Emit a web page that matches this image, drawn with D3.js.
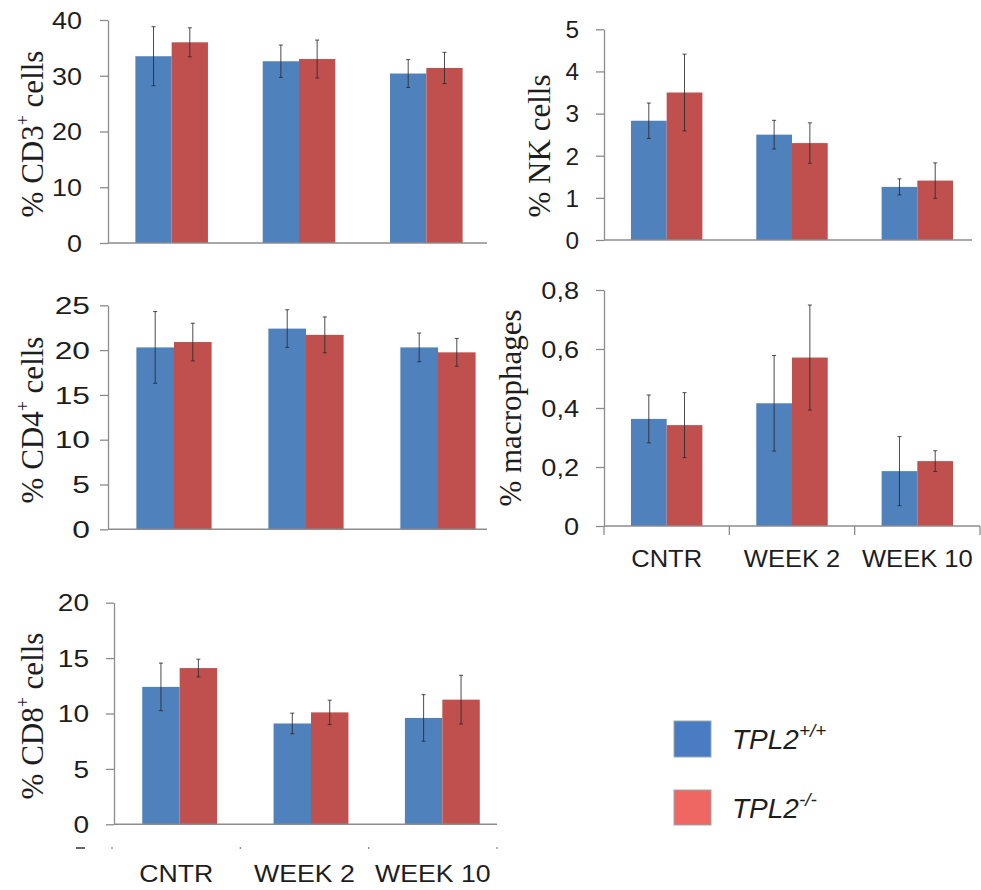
<!DOCTYPE html>
<html>
<head>
<meta charset="utf-8">
<script src="https://cdn.jsdelivr.net/npm/d3@7/dist/d3.min.js"></script>
<style>
  html, body { margin: 0; padding: 0; background: #fff; }
  svg { display: block; }
  .tick text { font-family: "Liberation Sans", Arial, sans-serif; fill: #1e1e1e; }
</style>
</head>
<body>
<svg id="chart" width="981" height="890"></svg>
<script>
// Time points and genotypes
const categories = ["CNTR", "WEEK 2", "WEEK 10"];
const genotypes = ["wt", "ko"];

// % CD3+ cells
const cd3Wt = [33.5, 32.6, 30.4];
const cd3WtErr = [5.3, 2.9, 2.5];
const cd3Ko = [36.0, 33.0, 31.4];
const cd3KoErr = [2.6, 3.4, 2.8];
const cd3Ticks = [0, 10, 20, 30, 40];

// % NK cells
const nkWt = [2.83, 2.5, 1.26];
const nkWtErr = [0.42, 0.34, 0.19];
const nkKo = [3.5, 2.3, 1.41];
const nkKoErr = [0.91, 0.48, 0.42];
const nkTicks = [0, 1, 2, 3, 4, 5];

// % CD4+ cells
const cd4Wt = [20.3, 22.4, 20.3];
const cd4WtErr = [4.0, 2.1, 1.6];
const cd4Ko = [20.9, 21.7, 19.75];
const cd4KoErr = [2.1, 2.0, 1.55];
const cd4Ticks = [0, 5, 10, 15, 20, 25];

// % macrophages
const macWt = [0.363, 0.416, 0.186];
const macWtErr = [0.081, 0.162, 0.117];
const macKo = [0.342, 0.571, 0.22];
const macKoErr = [0.11, 0.178, 0.035];
const macTicks = [0, 0.2, 0.4, 0.6, 0.8];

// % CD8+ cells
const cd8Wt = [12.4, 9.1, 9.6];
const cd8WtErr = [2.15, 0.93, 2.1];
const cd8Ko = [14.1, 10.1, 11.25];
const cd8KoErr = [0.8, 1.1, 2.2];
const cd8Ticks = [0, 5, 10, 15, 20];

const colors = { wt: "#4f81bd", ko: "#c0504d" };
const legendColors = { wt: "#4a7cc3", ko: "#ee6762" };
const axisColor = "#8c8c8c";

const svg = d3.select("#chart");

const commaFmt = d => d === 0 ? "0" : d.toFixed(1).replace(".", ",");

const panels = [
  { wt: cd3Wt, wtErr: cd3WtErr, ko: cd3Ko, koErr: cd3KoErr, ticks: cd3Ticks,
    label: ["% CD3", "+", " cells"],
    ax: 108, top: 20, bottom: 243, bandEnd: 490, lineEnd: 487,
    sx: 1.17, gap: 26, labelX: 43, labelY: 134 },
  { wt: nkWt, wtErr: nkWtErr, ko: nkKo, koErr: nkKoErr, ticks: nkTicks,
    label: ["% NK cells"],
    ax: 604, top: 29.3, bottom: 240, bandEnd: 980, lineEnd: 972,
    sx: 1.06, gap: 25, labelX: 550, labelY: 146 },
  { wt: cd4Wt, wtErr: cd4WtErr, ko: cd4Ko, koErr: cd4KoErr, ticks: cd4Ticks,
    label: ["% CD4", "+", " cells"],
    ax: 108, top: 305.3, bottom: 529.3, bandEnd: 504, lineEnd: 487,
    sx: 1.38, gap: 18, labelX: 43, labelY: 420 },
  { wt: macWt, wtErr: macWtErr, ko: macKo, koErr: macKoErr, ticks: macTicks,
    label: ["% macrophages"], fmt: commaFmt,
    ax: 604, top: 290, bottom: 526, bandEnd: 980, lineEnd: 980,
    sx: 1.18, gap: 25, labelX: 521, labelY: 408,
    catAxis: { start: 604, end: 980, y: 526, tick: 9, labelY: 567, sx: 1.11 } },
  { wt: cd8Wt, wtErr: cd8WtErr, ko: cd8Ko, koErr: cd8KoErr, ticks: cd8Ticks,
    label: ["% CD8", "+", " cells"],
    ax: 114, top: 602.7, bottom: 824.3, bandEnd: 508, lineEnd: 497,
    sx: 1.22, gap: 25, labelX: 43, labelY: 716,
    catAxis: { start: 112, end: 497, y: 847, tick: 2, labelY: 882, sx: 1.16 } }
];

panels.forEach(p => {
  const g = svg.append("g");

  const y = d3.scaleLinear()
    .domain([0, d3.max(p.ticks)])
    .range([p.bottom, p.top]);

  const x0 = d3.scaleBand()
    .domain(categories)
    .range([p.ax, p.bandEnd])
    .paddingInner(0.43)
    .paddingOuter(0.215);

  const x1 = d3.scaleBand()
    .domain(genotypes)
    .range([0, x0.bandwidth()]);

  // bars with error bars
  const rows = categories.map((c, i) => ({
    cat: c,
    items: [
      { key: "wt", v: p.wt[i], e: p.wtErr[i] },
      { key: "ko", v: p.ko[i], e: p.koErr[i] }
    ]
  }));

  const groups = g.selectAll("g.grp").data(rows).join("g")
    .attr("class", "grp")
    .attr("transform", d => `translate(${x0(d.cat)},0)`);

  groups.selectAll("rect").data(d => d.items).join("rect")
    .attr("x", d => x1(d.key))
    .attr("y", d => y(d.v))
    .attr("width", x1.bandwidth())
    .attr("height", d => y(0) - y(d.v))
    .attr("fill", d => colors[d.key]);

  const eb = groups.selectAll("g.err").data(d => d.items).join("g")
    .attr("class", "err")
    .attr("stroke", "#2b2b2b")
    .attr("stroke-opacity", 0.85)
    .attr("stroke-width", 1);
  const cx = d => x1(d.key) + x1.bandwidth() / 2;
  eb.append("line")
    .attr("x1", cx).attr("x2", cx)
    .attr("y1", d => y(d.v + d.e)).attr("y2", d => y(d.v - d.e));
  eb.append("line")
    .attr("x1", d => cx(d) - 2).attr("x2", d => cx(d) + 2)
    .attr("y1", d => y(d.v + d.e)).attr("y2", d => y(d.v + d.e));
  eb.append("line")
    .attr("x1", d => cx(d) - 2).attr("x2", d => cx(d) + 2)
    .attr("y1", d => y(d.v - d.e)).attr("y2", d => y(d.v - d.e));

  // value axis
  const yAxis = d3.axisLeft(y)
    .tickValues(p.ticks)
    .tickSize(8)
    .tickSizeOuter(0)
    .tickFormat(p.fmt || d3.format("d"));
  const ya = g.append("g")
    .attr("transform", `translate(${p.ax},0)`)
    .call(yAxis);
  ya.select(".domain").attr("stroke", axisColor).attr("stroke-width", 1.3);
  ya.selectAll(".tick line").attr("stroke", axisColor).attr("stroke-width", 1.3);
  ya.selectAll(".tick text")
    .attr("font-size", 23)
    .attr("x", -p.gap / p.sx)
    .attr("dy", "0.36em")
    .attr("transform", `scale(${p.sx},1)`);

  // baseline
  g.append("line")
    .attr("x1", p.ax).attr("x2", p.lineEnd)
    .attr("y1", y(0)).attr("y2", y(0))
    .attr("stroke", axisColor).attr("stroke-width", 1.5);

  // category axis with labels
  if (p.catAxis) {
    const c = p.catAxis;
    const xc = d3.scaleBand().domain(categories).range([c.start, c.end]);
    const bounds = categories.map(k => xc(k)).concat([c.end]);
    g.selectAll("line.ctick").data(bounds).join("line")
      .attr("class", "ctick")
      .attr("x1", d => d).attr("x2", d => d)
      .attr("y1", c.y).attr("y2", c.y + c.tick)
      .attr("stroke", axisColor).attr("stroke-width", 1.3);
    g.selectAll("text.clab").data(categories).join("text")
      .attr("class", "clab")
      .attr("transform", d => `translate(${xc(d) + xc.bandwidth() / 2},${c.labelY}) scale(${c.sx},1)`)
      .attr("text-anchor", "middle")
      .attr("font-family", "Liberation Sans, Arial, sans-serif")
      .attr("font-size", 23)
      .attr("fill", "#1e1e1e")
      .text(d => d);
  }

  // axis title
  const t = g.append("text")
    .attr("transform", `translate(${p.labelX},${p.labelY}) rotate(-90)`)
    .attr("text-anchor", "middle")
    .attr("font-family", "Liberation Serif, 'Times New Roman', serif")
    .attr("font-size", 31)
    .attr("fill", "#1e1e1e");
  t.append("tspan").text(p.label[0]);
  if (p.label.length > 1) {
    t.append("tspan").attr("font-size", 18).attr("dy", -14).text(p.label[1]);
    t.append("tspan").attr("dy", 14).text(p.label[2]);
  }
});

// stray mark left of the lower category axis
svg.append("line")
  .attr("x1", 76).attr("x2", 85).attr("y1", 848).attr("y2", 848)
  .attr("stroke", "#333").attr("stroke-width", 1.5);

// legend
const legendItems = [
  { key: "wt", sup: "+/+", y: 721, h: 36 },
  { key: "ko", sup: "-/-", y: 790, h: 35 }
];
const lg = svg.append("g");
const li = lg.selectAll("g").data(legendItems).join("g")
  .attr("transform", d => `translate(674,${d.y})`);
li.append("rect")
  .attr("width", 37).attr("height", d => d.h)
  .attr("fill", d => legendColors[d.key])
  .attr("stroke", "#9aa", "stroke-opacity", 0.4);
const lt = li.append("text")
  .attr("x", 58).attr("y", 28)
  .attr("font-family", "Liberation Sans, Arial, sans-serif")
  .attr("font-style", "italic")
  .attr("font-size", 28)
  .attr("fill", "#1e1e1e");
lt.append("tspan").text("TPL2");
lt.append("tspan").attr("font-size", 19).attr("dy", -12).text(d => d.sup);
</script>
</body>
</html>
